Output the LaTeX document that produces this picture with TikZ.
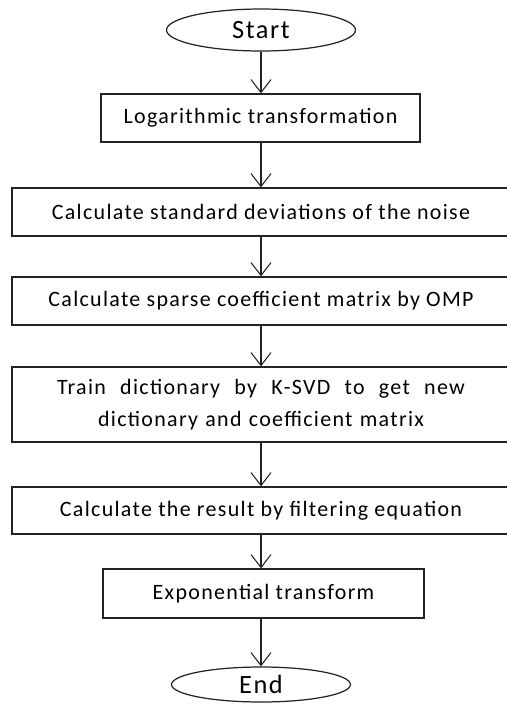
\documentclass[tikz,border=0pt]{standalone}
\usepackage{fontspec}
\setmainfont{Carlito}[LetterSpace=6]
\usetikzlibrary{positioning, arrows.meta, shapes.geometric}
\definecolor{flowink}{RGB}{35,35,35}
\tikzset{
  termnode/.style={draw=flowink, ellipse, line width=0.7pt, inner sep=0pt, font=\fontsize{15}{18}\selectfont},
  procbox/.style={draw=flowink, rectangle, line width=0.7pt, inner sep=0pt, minimum height=0.96cm, font=\fontsize{12.5}{18}\selectfont},
  flowarrow/.style={draw=flowink, line width=0.6pt, -{Straight Barb[length=2.6mm, width=4mm]}},
}

\begin{document}
\begin{tikzpicture}[x=0.02cm, y=-0.02cm]
\useasboundingbox (0,0) rectangle (507,704);

% ============================================================ terminals and steps
\node[termnode, minimum width=3.78cm, minimum height=0.84cm] (start) at (261, 30) {Start};
\node[procbox, minimum width=6.38cm] (logtr) at (260.5, 118) {Logarithmic transformation};
\node[procbox, minimum width=9.96cm] (stddev) at (261, 212) {Calculate standard deviations of the noise};
\node[procbox, minimum width=9.96cm] (omp) at (261, 301) {Calculate sparse coefficient matrix by OMP};
\node[procbox, minimum width=9.96cm, minimum height=1.5cm, align=center, text width=8.16cm] (ksvd) at (261, 404.5)
  {\hbox to 8.16cm{Train\hfill dictionary\hfill by\hfill K-SVD\hfill to\hfill get\hfill new}\\ dictionary and coefficient matrix};
\node[procbox, minimum width=9.96cm, minimum height=0.94cm] (filt) at (261, 510.5) {Calculate the result by filtering equation};
\node[procbox, minimum width=6.42cm, minimum height=0.98cm] (expo) at (263.5, 593.5) {Exponential transform};
\node[termnode, minimum width=3.58cm, minimum height=0.70cm] (finish) at (261, 684.5) {End};

% ============================================================ arrows
\draw[flowarrow] (start.south) -- (start.south |- logtr.north);
\draw[flowarrow] (logtr.south -| start.south) -- (start.south |- stddev.north);
\draw[flowarrow] (stddev.south) -- (omp.north);
\draw[flowarrow] (omp.south) -- (ksvd.north);
\draw[flowarrow] (ksvd.south) -- (filt.north);
\draw[flowarrow] (filt.south) -- (filt.south |- expo.north);
\draw[flowarrow] (expo.south -| finish.north) -- (finish.north);

\end{tikzpicture}
\end{document}
